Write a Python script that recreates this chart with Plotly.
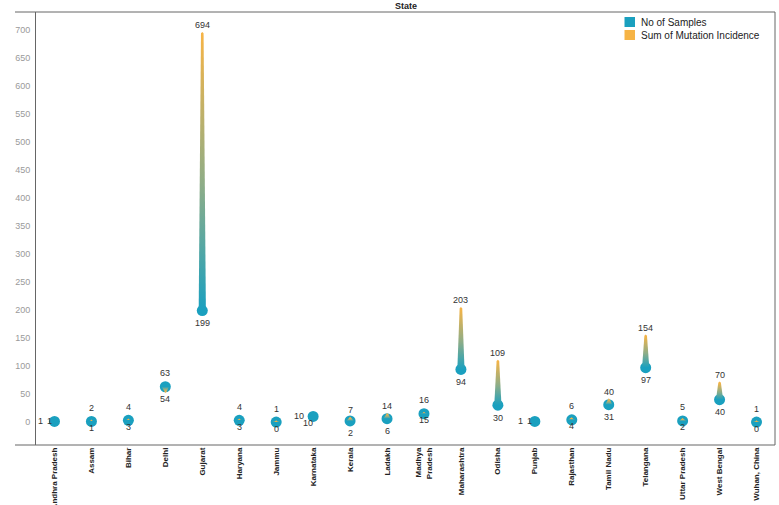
import plotly.graph_objects as go

# ---------------- data ----------------
states = ["Andhra Pradesh", "Assam", "Bihar", "Delhi", "Gujarat", "Haryana", "Jammu",
          "Karnataka", "Kerala", "Ladakh", "Madhya<br>Pradesh", "Maharashtra", "Odisha",
          "Punjab", "Rajasthan", "Tamil Nadu", "Telangana", "Uttar Pradesh",
          "West Bengal", "Wuhan, China"]
samples = [1, 1, 3, 63, 199, 3, 0, 10, 2, 6, 15, 94, 30, 1, 4, 31, 97, 2, 40, 0]
mutations = [1, 2, 4, 54, 694, 4, 1, 10, 7, 14, 16, 203, 109, 1, 6, 40, 154, 5, 70, 1]
y_ticks = [0, 50, 100, 150, 200, 250, 300, 350, 400, 450, 500, 550, 600, 650, 700]

# ---------------- style / layout ----------------
W, H = 779, 505
PL, PR, PT, PB = 36, 775, 12, 445
Y_RANGE = [-41, 732]
X_RANGE = [-0.5, len(states) - 0.5]
TEAL = "#1AA0BF"
MID = "#8DAD88"
ORANGE = "#F6B446"
AXIS_COL = "#666666"
FONT = "Liberation Sans, Arial, sans-serif"

ppy = (PB - PT) / (Y_RANGE[1] - Y_RANGE[0])          # px per y unit
ppx = (PR - PL) / (X_RANGE[1] - X_RANGE[0])          # px per x unit


def xp(px):
    return (px - PL) / (PR - PL)


def yp(py):
    return (PB - py) / (PB - PT)


idx = list(range(len(states)))
fig = go.Figure()

# sample circles
fig.add_trace(go.Scatter(
    x=idx, y=samples, mode="markers",
    marker=dict(size=11, color=TEAL, line=dict(width=0)),
    showlegend=False, hoverinfo="skip"))

# tapered gradient drops from samples to mutation incidence
hw0 = 3.6 / ppx
hw1 = 1.3 / ppx
for i, s, m in zip(idx, samples, mutations):
    if s == m:
        continue
    sign = 1 if m > s else -1
    cap = m + sign * 1.3 / ppy
    xs = [i - hw0, i - hw1, i, i + hw1, i + hw0, i - hw0]
    ys = [s, m, cap, m, s, s]
    lo, hi = min(s, m), max(s, m)
    if m > s:
        cs = [[0, TEAL], [0.45, MID], [1, ORANGE]]
    else:
        cs = [[0, ORANGE], [0.55, MID], [1, TEAL]]
    fig.add_trace(go.Scatter(
        x=xs, y=ys, mode="lines", fill="toself",
        line=dict(width=0, color="rgba(0,0,0,0)"),
        fillgradient=dict(type="vertical", colorscale=cs, start=lo, stop=hi),
        showlegend=False, hoverinfo="skip"))

# data labels
annotations = []
lab_font = dict(family=FONT, size=9, color="#333333")
for i, s, m in zip(idx, samples, mutations):
    if s == m:
        annotations.append(dict(x=i, y=m, text=str(m), showarrow=False, font=lab_font,
                                xshift=-14, yshift=0))
        annotations.append(dict(x=i, y=s, text=str(s), showarrow=False, font=lab_font,
                                xshift=-5, yshift=-7 if len(str(s)) > 1 else 0))
        continue
    diff_px = abs(m - s) * ppy
    if diff_px < 2.5:
        annotations.append(dict(x=i, y=s, text=str(max(s, m)), showarrow=False, font=lab_font,
                                yshift=13.5))
        annotations.append(dict(x=i, y=s, text=str(min(s, m)), showarrow=False, font=lab_font,
                                yshift=-6.5))
    elif m > s:
        annotations.append(dict(x=i, y=m, text=str(m), showarrow=False, font=lab_font,
                                yshift=8))
        annotations.append(dict(x=i, y=s, text=str(s), showarrow=False, font=lab_font,
                                yshift=-12.5))
    else:
        annotations.append(dict(x=i, y=s, text=str(s), showarrow=False, font=lab_font,
                                yshift=13.5))
        below = max(12.5, diff_px + 6.5)
        annotations.append(dict(x=i, y=s, text=str(m), showarrow=False, font=lab_font,
                                yshift=-below))

# title "State"
annotations.append(dict(xref="paper", yref="paper", x=0.5, y=yp(6), text="<b>State</b>",
                        showarrow=False, font=dict(family=FONT, size=9, color="#222222"),
                        xanchor="center", yanchor="middle"))

# manual legend
legend_items = [("No of Samples", TEAL, 22), ("Sum of Mutation Incidence", ORANGE, 35)]
shapes = []
for name, col, cy in legend_items:
    shapes.append(dict(type="rect", xref="paper", yref="paper",
                       x0=xp(624.5), x1=xp(635), y0=yp(cy - 5), y1=yp(cy + 5),
                       fillcolor=col, line=dict(width=0)))
    annotations.append(dict(xref="paper", yref="paper", x=xp(639), y=yp(cy), text=name,
                            showarrow=False, xanchor="left", yanchor="middle",
                            font=dict(family=FONT, size=10, color="#222222")))

# frame lines
line_style = dict(color=AXIS_COL, width=1)
shapes += [
    dict(type="line", xref="paper", yref="paper", x0=xp(15), x1=xp(PR), y0=1, y1=1, line=line_style),
    dict(type="line", xref="paper", yref="paper", x0=xp(15), x1=xp(PR), y0=0, y1=0, line=line_style),
    dict(type="line", xref="paper", yref="paper", x0=1, x1=1, y0=0, y1=1, line=line_style),
]

fig.update_layout(
    width=W, height=H,
    margin=dict(l=PL, r=W - PR, t=PT, b=H - PB, autoexpand=False),
    paper_bgcolor="white", plot_bgcolor="white",
    showlegend=False,
    annotations=annotations, shapes=shapes,
    font=dict(family=FONT),
    xaxis=dict(range=X_RANGE, tickmode="array", tickvals=idx, ticktext=states,
               tickangle=-90, showgrid=False, zeroline=False, showline=False, ticks="",
               tickfont=dict(family=FONT, size=8, color="#222222", weight="bold"),
               fixedrange=True, automargin=False),
    yaxis=dict(range=Y_RANGE, tickmode="array", tickvals=y_ticks, showgrid=False,
               zeroline=False, showline=True, linecolor=AXIS_COL, linewidth=1, ticks="",
               ticklabelstandoff=3,
               tickfont=dict(family=FONT, size=9, color="#9A9A9A"),
               fixedrange=True, automargin=False),
)

fig.write_html("out.html", config={"displayModeBar": False},
               post_script="document.body.style.margin='0px';document.body.style.padding='0px';")
